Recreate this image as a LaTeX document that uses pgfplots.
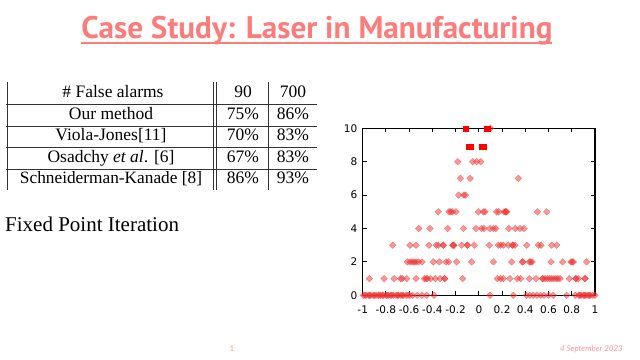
\documentclass[border=0pt]{standalone}
\usepackage{fontspec}
\setmainfont{Liberation Serif}
\newfontfamily\titlefont{PT Sans}
\newfontfamily\tickfont{DejaVu Sans}
\newfontfamily\footfont{Lato}
\usepackage{pgfplots}
\pgfplotsset{compat=1.18}
\definecolor{salmon}{RGB}{252,124,124}
\definecolor{footc}{RGB}{255,150,150}
\definecolor{ptred}{RGB}{240,50,50}
\begin{document}
\begin{tikzpicture}
\path[use as bounding box,fill=white] (0,0) rectangle (640bp,360bp);
% title
\node[anchor=base,inner sep=0pt,text=salmon] at (317bp,321bp)
  {\resizebox{471bp}{!}{\titlefont\bfseries\fontsize{30bp}{34bp}\selectfont Case Study: Laser in Manufacturing}};
\draw[salmon,line width=2.4bp] (81bp,317bp) -- (552bp,317bp);
% table
\begin{scope}[every node/.style={inner sep=0pt,anchor=base},font=\fontsize{17.5bp}{19bp}\selectfont]
\foreach \yy in {256,234,213,191}{\draw[line width=0.6bp,black!80] (6bp,\yy bp) -- (317bp,\yy bp);}
\foreach \xx in {7,213,216.5,268}{\draw[line width=0.6bp,black!80] (\xx bp,278bp) -- (\xx bp,170bp);}
\node at (113bp,262bp) {\# False alarms};
\node at (243bp,262bp) {90};
\node at (293bp,262bp) {700};
\node at (111bp,240.5bp) {Our method};
\node at (243bp,240.5bp) {75\%};
\node at (293bp,240.5bp) {86\%};
\node at (111bp,219bp) {Viola-Jones[11]};
\node at (243bp,219bp) {70\%};
\node at (293bp,219bp) {83\%};
\node at (111bp,197.5bp) {Osadchy \emph{et al}. [6]};
\node at (243bp,197.5bp) {67\%};
\node at (293bp,197.5bp) {83\%};
\node at (111bp,176bp) {\resizebox{182bp}{!}{Schneiderman-Kanade [8]}};
\node at (243bp,176bp) {86\%};
\node at (293bp,176bp) {93\%};
\end{scope}
\node[anchor=base west,inner sep=0pt,font=\fontsize{21bp}{24bp}\selectfont] at (5bp,128.3bp) {Fixed Point Iteration};
% footer
\node[anchor=base,inner sep=0pt,text=footc,font=\footfont\fontsize{8bp}{9bp}\selectfont] at (232bp,9bp) {1};
\node[anchor=base east,inner sep=0pt,text=footc,font=\footfont\itshape\fontsize{8bp}{9bp}\selectfont] at (623bp,9bp) {4 September 2023};
% chart
\begin{axis}[at={(362.7bp,64.7bp)},anchor=south west,scale only axis,
  width=232.3bp,height=167bp,xmin=-1,xmax=1,ymin=0,ymax=10,
  axis line style={line width=1.3bp},
  xtick={-1,-0.8,-0.6,-0.4,-0.2,0,0.2,0.4,0.6,0.8,1},
  xticklabels={-1,-0.8,-0.6,-0.4,-0.2,0,0.2,0.4,0.6,0.8,1},
  ytick={0,2,4,6,8,10},yticklabels={0,2,4,6,8,10},
  tick style={black,line width=1.1bp},major tick length=4bp,
  tick align=inside,
  ticklabel style={font=\tickfont\fontsize{10.5bp}{12bp}\selectfont},
  xticklabel style={yshift=-7bp},
  yticklabel style={xshift=-2bp},
  clip=false]
\addplot[only marks,mark=diamond*,mark size=3.3bp,mark options={xscale=1.35},color=ptred,opacity=0.5] coordinates {
(-0.994,0)(-0.971,0)(-0.951,0)(-0.931,0)(-0.908,0)(-0.885,0)(-0.865,0)(-0.845,0)(-0.822,0)(-0.80,0)(-0.78,0)(-0.76,0)(-0.736,0)(-0.713,0)(-0.693,0)(-0.673,0)(-0.65,0)(-0.627,0)(-0.593,0)(-0.57,0)(-0.53,0)(-0.489,0)(-0.449,0)(-0.386,0)
(-0.98,0)(-0.94,0)(-0.90,0)(-0.86,0)(-0.83,0)(-0.79,0)(-0.75,0)(-0.70,0)(-0.66,0)(-0.61,0)
(0.096,0)(0.297,0)(0.41,0)(0.44,0)(0.47,0)(0.50,0)(0.53,0)(0.56,0)(0.60,0)(0.64,0)(0.755,0)(0.83,0)(0.86,0)(0.88,0)(0.90,0)(0.92,0)(0.94,0)(0.96,0)(0.98,0)(1.0,0)(0.87,0)(0.91,0)(0.95,0)
(-0.943,1)(-0.816,1)(-0.730,1)(-0.673,1)(-0.66,1)(-0.621,1)(-0.541,1)(-0.469,1)(-0.455,1)(-0.443,1)(-0.415,1)(-0.374,1)(-0.334,1)(-0.294,1)(-0.294,1)(-0.139,1)
(0.159,1)(0.188,1)(0.211,1)(0.268,1)(0.331,1)(0.360,1)(0.435,1)(0.492,1)(0.549,1)(0.549,1)(0.570,1)(0.590,1)(0.610,1)(0.627,1)(0.645,1)(0.664,1)(0.680,1)(0.699,1)(0.779,1)(0.836,1)(0.836,1)(0.857,1)(0.914,1)(0.914,1)
(-0.615,2)(-0.593,2)(-0.575,2)(-0.558,2)(-0.541,2)(-0.521,2)(-0.489,2)(-0.392,2)(-0.340,2)(-0.283,2)(-0.260,2)(-0.191,2)(-0.062,2)(0.125,2)(0.283,2)(0.377,2)(0.377,2)(0.435,2)(0.445,2)(0.458,2)(0.621,2)(0.722,2)(0.793,2)(0.803,2)(0.813,2)(0.928,2)
(-0.742,3)(-0.593,3)(-0.541,3)(-0.429,3)(-0.366,3)(-0.349,3)(-0.306,3)(-0.306,3)(-0.225,3)(-0.220,3)(-0.214,3)(-0.148,3)(-0.099,3)(-0.099,3)(-0.039,3)(0.090,3)(0.168,3)(0.188,3)(0.211,3)(0.254,3)(0.291,3)(0.291,3)(0.311,3)(0.412,3)(0.512,3)(0.535,3)(0.627,3)(0.670,3)
(-0.518,4)(-0.420,4)(-0.268,4)(-0.133,4)(-0.024,4)(0.024,4)(0.045,4)(0.096,4)(0.125,4)(0.145,4)(0.257,4)(0.314,4)(0.354,4)(0.389,4)
(-0.349,5)(-0.257,5)(-0.242,5)(-0.228,5)(-0.197,5)(-0.004,5)(0.039,5)(0.053,5)(0.153,5)(0.171,5)(0.217,5)(0.231,5)(0.231,5)(0.240,5)(0.504,5)(0.584,5)
(-0.174,6)(-0.130,6)(-0.116,6)
(-0.159,7)(-0.076,7)(0.340,7)
(-0.182,8)(-0.053,8)(-0.019,8)(0.016,8)
(0.10,10)
};
\addplot[only marks,mark=square*,mark size=2.5bp,color=red] coordinates {
(-0.11,10)(0.065,10)(0.08,10)(-0.085,8.9)(-0.068,8.9)(0.025,8.9)(0.042,8.9)
};
\end{axis}
\end{tikzpicture}
\end{document}
